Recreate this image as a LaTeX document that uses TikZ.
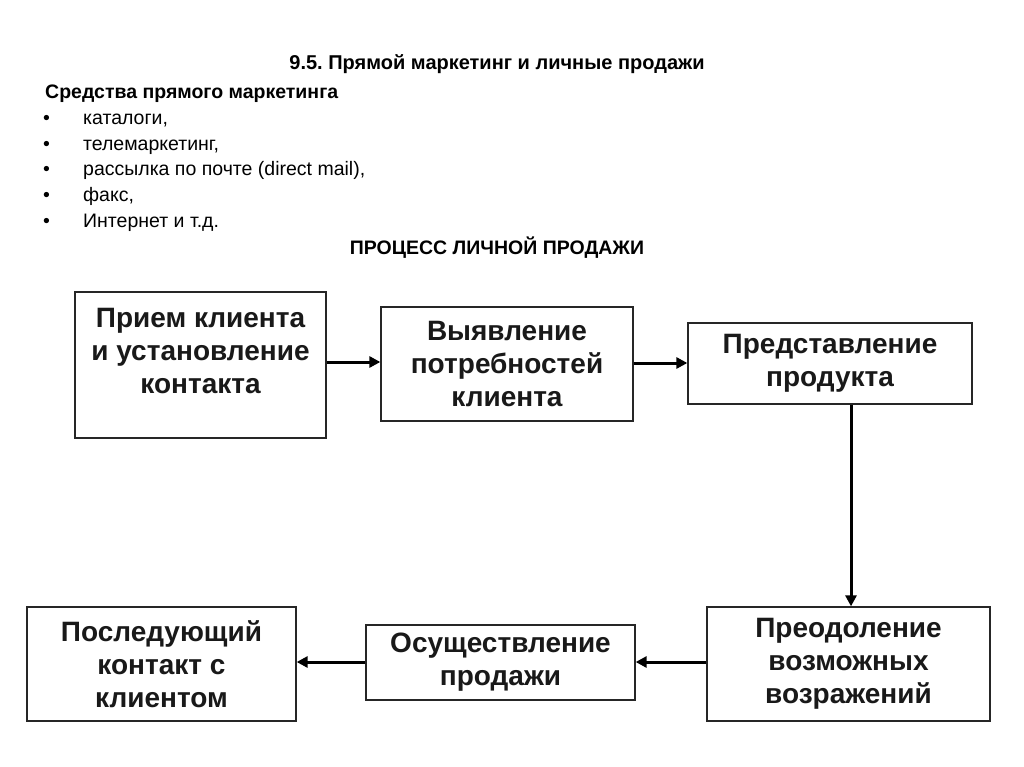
\documentclass[tikz,border=0pt]{standalone}
\usepackage{fontspec}
\setmainfont{Liberation Sans}
\usetikzlibrary{arrows.meta}
\begin{document}
\begin{tikzpicture}[x=1pt,y=-1pt,
  stepbox/.style={draw=black!85,line width=1.3pt,rectangle,inner sep=0pt,align=center,
    font=\fontsize{28}{33}\selectfont\bfseries,text=black!90},
  flow/.style={line width=3pt,-{Triangle[length=11pt,width=11pt]},black},
  hdr/.style={font=\fontsize{19.5}{22}\selectfont\bfseries,inner sep=0pt,anchor=base west},
  itm/.style={font=\fontsize{19.5}{22}\selectfont,inner sep=0pt,anchor=base west}]
\useasboundingbox (0,0) rectangle (1024,767);
\fill[white] (0,0) rectangle (1024,767);
\node[font=\fontsize{20}{22}\selectfont\bfseries,inner sep=0pt,anchor=base] (title) at (497,70) {9.5.~Прямой маркетинг и личные продажи};
\node[hdr] (sub) at (45,99) {Средства прямого маркетинга};
\foreach \i/\t [count=\n] in {125/{каталоги,},151/{телемаркетинг,},176/{рассылка по почте (direct mail),},202/{факс,},228/{Интернет и т.д.}}{
  \node[itm] (b\n) at (43,\i) {•};
  \node[itm] (t\n) at (83,\i) {\t};
}
\node[font=\fontsize{19.5}{22}\selectfont\bfseries,inner sep=0pt,anchor=base] (proc) at (497,254) {ПРОЦЕСС ЛИЧНОЙ ПРОДАЖИ};

\node[stepbox,minimum width=251pt,minimum height=146pt] (s1) at (200.5,365) {Прием клиента\\и установление\\контакта\\[-5pt]\mbox{}};
\node[stepbox,minimum width=252pt,minimum height=114pt] (s2) at (507,364) {Выявление\\потребностей\\клиента};
\node[stepbox,minimum width=284pt,minimum height=81pt] (s3) at (830,363.5) {Представление\\продукта};
\node[stepbox,minimum width=283pt,minimum height=114pt] (s4) at (848.5,664) {Преодоление\\возможных\\возражений};
\node[stepbox,minimum width=269pt,minimum height=75pt] (s5) at (500.5,662.5) {Осуществление\\продажи};
\node[stepbox,minimum width=269pt,minimum height=114pt] (s6) at (161.5,664) {Последующий\\контакт с\\клиентом};

\draw[flow] (s1.east |- 0,362) -- (s2.west |- 0,362);
\draw[flow] (s2.east |- 0,363) -- (s3.west |- 0,363);
\draw[flow] (s3.south -| 851,0) -- (s4.north -| 851,0);
\draw[flow] (s4.west |- 0,662) -- (s5.east |- 0,662);
\draw[flow] (s5.west |- 0,662) -- (s6.east |- 0,662);
\end{tikzpicture}
\end{document}
